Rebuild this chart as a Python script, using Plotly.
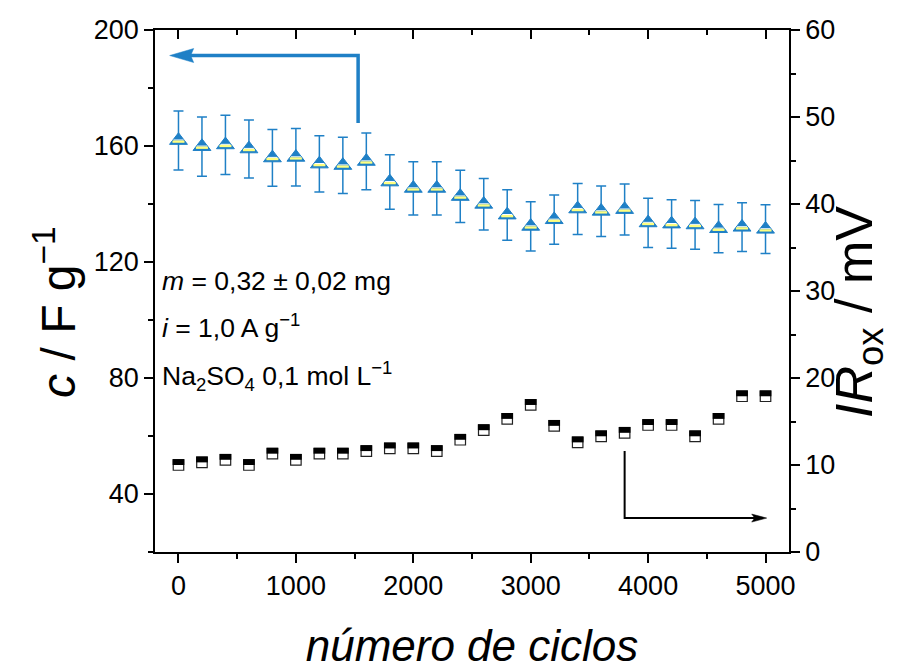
import plotly.graph_objects as go

# ---------------- data ----------------
cycles = [0, 200, 400, 600, 800, 1000, 1200, 1400, 1600, 1800, 2000, 2200, 2400,
          2600, 2800, 3000, 3200, 3400, 3600, 3800, 4000, 4200, 4400, 4600, 4800, 5000]
capacitance = [161.9, 159.8, 160.4, 159.0, 155.9, 156.1, 153.8, 153.3, 154.7, 147.6,
               145.4, 145.4, 142.6, 139.9, 136.2, 132.3, 134.6, 138.3, 137.5, 138.1,
               133.5, 133.1, 132.8, 131.5, 132.0, 131.3]
capacitance_err = [10.2, 10.2, 10.2, 10.0, 9.8, 9.9, 9.7, 9.7, 9.8, 9.4, 9.2, 9.2, 9.0,
                   8.9, 8.7, 8.5, 8.5, 8.8, 8.7, 8.8, 8.5, 8.4, 8.4, 8.3, 8.4, 8.4]
ir_ox = [10.0, 10.3, 10.6, 10.0, 11.3, 10.6, 11.3, 11.3, 11.6, 11.9, 11.9, 11.6, 12.9,
         14.0, 15.3, 16.9, 14.5, 12.6, 13.3, 13.7, 14.6, 14.6, 13.3, 15.3, 17.9, 17.9]

x_ticks = [0, 1000, 2000, 3000, 4000, 5000]
y_left_ticks = [40, 80, 120, 160, 200]
y_right_ticks = [0, 10, 20, 30, 40, 50, 60]

# ---------------- style ----------------
FONT = "Liberation Sans, Arial, sans-serif"
BLUE = "#1f80c6"
YELLOW = "#ffff80"
W, H = 922, 670
# the page body adds an 8 px offset, margins compensate for it
M_L, M_R, M_T, M_B = 147, 141, 22, 126
X_RANGE = [-200, 5200]
YL_RANGE = [20, 200]
YR_RANGE = [0, 60]
plot_w = W - M_L - M_R
plot_h = H - M_T - M_B
px_per_left = plot_h / (YL_RANGE[1] - YL_RANGE[0])
px_per_right = plot_h / (YR_RANGE[1] - YR_RANGE[0])
px_per_x = plot_w / (X_RANGE[1] - X_RANGE[0])

n = len(cycles)
band_len = 2.3 / px_per_left        # yellow band below marker centre
white_len = 1.0 / px_per_left       # thin white line above the band
half_sq = 5.9 / px_per_right        # black upper half of the square markers

fig = go.Figure()

# capacitance: blue triangles with error bars
fig.add_trace(go.Scatter(
    x=cycles, y=capacitance, mode="markers", xaxis="x", yaxis="y",
    marker=dict(symbol="triangle-up", size=15.5, color=BLUE,
                line=dict(color=BLUE, width=1)),
    error_y=dict(type="data", array=capacitance_err, color=BLUE,
                 thickness=1.5, width=5),
    hoverinfo="x+y", showlegend=False))
# white thin line inside triangle
fig.add_trace(go.Scatter(
    x=cycles, y=capacitance, mode="markers", xaxis="x2", yaxis="y",
    marker=dict(size=0, color="rgba(0,0,0,0)"),
    error_y=dict(type="data", symmetric=False, array=[white_len] * n,
                 arrayminus=[0] * n, color="white", thickness=10, width=0),
    hoverinfo="skip", showlegend=False))
# yellow band inside triangle
fig.add_trace(go.Scatter(
    x=cycles, y=capacitance, mode="markers", xaxis="x2", yaxis="y",
    marker=dict(size=0, color="rgba(0,0,0,0)"),
    error_y=dict(type="data", symmetric=False, array=[0] * n,
                 arrayminus=[band_len] * n, color=YELLOW, thickness=12, width=0),
    hoverinfo="skip", showlegend=False))

# IR drop: half-filled squares
fig.add_trace(go.Scatter(
    x=cycles, y=ir_ox, mode="markers", xaxis="x", yaxis="y2",
    marker=dict(symbol="square", size=10.5, color="white",
                line=dict(color="#222222", width=1.2)),
    hoverinfo="x+y", showlegend=False))
fig.add_trace(go.Scatter(
    x=cycles, y=ir_ox, mode="markers", xaxis="x", yaxis="y2",
    marker=dict(size=0, color="rgba(0,0,0,0)"),
    error_y=dict(type="data", symmetric=False, array=[half_sq] * n,
                 arrayminus=[0] * n, color="black", thickness=11.7, width=0),
    hoverinfo="skip", showlegend=False))

# ---------------- arrows ----------------
ba_x, ba_y0, ba_y1, ba_tip = 1530, 167.9, 191.2, -75
fig.add_shape(type="path", xref="x", yref="y",
              path=f"M {ba_x},{ba_y0} L {ba_x},{ba_y1} L {ba_tip + 10 / px_per_x},{ba_y1}",
              line=dict(color=BLUE, width=3.5))
fig.add_shape(type="path", xref="x", yref="y", xsizemode="pixel", ysizemode="pixel",
              xanchor=ba_tip, yanchor=ba_y1,
              path="M 0,0 L 24,7 L 21,0 L 24,-7 Z",
              fillcolor=BLUE, line=dict(color=BLUE, width=0.5))

ka_x, ka_y0, ka_y1, ka_tip = 3800, 11.6, 3.9, 5010
fig.add_shape(type="path", xref="x", yref="y2",
              path=f"M {ka_x},{ka_y0} L {ka_x},{ka_y1} L {ka_tip - 6 / px_per_x},{ka_y1}",
              line=dict(color="black", width=2))
fig.add_shape(type="path", xref="x", yref="y2", xsizemode="pixel", ysizemode="pixel",
              xanchor=ka_tip, yanchor=ka_y1,
              path="M 0,0 L -15,4 L -12,0 L -15,-4 Z",
              fillcolor="black", line=dict(color="black", width=0.5))

# ---------------- text ----------------
notes = [
    ("<i>m</i> = 0,32 ± 0,02 mg", 0.519),
    ("<i>i</i> = 1,0 A g<sup>−1</sup>", 0.432),
    ("Na<sub>2</sub>SO<sub>4</sub> 0,1 mol L<sup>−1</sup>", 0.338),
]
for txt, yp in notes:
    fig.add_annotation(text=txt, xref="paper", yref="paper", x=0.008, y=yp,
                       xanchor="left", yanchor="middle", showarrow=False,
                       font=dict(family=FONT, size=26.5, color="black"))

fig.add_annotation(text="<i>c</i> / F g<sup>−1</sup>", textangle=-90,
                   xref="paper", yref="paper", x=(47 - M_L) / plot_w, y=0.46,
                   xanchor="center", yanchor="middle", showarrow=False,
                   font=dict(family=FONT, size=48, color="black"))
fig.add_annotation(text="<i>IR</i><sub>ox</sub> / mV", textangle=-90,
                   xref="paper", yref="paper", x=(850 - M_L) / plot_w, y=0.46,
                   xanchor="center", yanchor="middle", showarrow=False,
                   font=dict(family=FONT, size=52, color="black"))

# ---------------- axes ----------------
tick_font = dict(family=FONT, size=27, color="black")
common = dict(showgrid=False, zeroline=False, showline=True, linecolor="black",
              linewidth=1.6, tickcolor="black", tickwidth=1.5)

fig.update_layout(
    width=W, height=H,
    margin=dict(l=M_L, r=M_R, t=M_T, b=M_B, autoexpand=False),
    paper_bgcolor="white", plot_bgcolor="white",
    font=dict(family=FONT, color="black"),
    showlegend=False,
    xaxis=dict(range=X_RANGE, tickvals=x_ticks, ticks="outside", ticklen=9,
               tickfont=tick_font,
               minor=dict(dtick=500, tick0=0, ticks="outside", ticklen=5,
                          tickcolor="black", tickwidth=1.5),
               title=dict(text="<i>número de ciclos</i>", standoff=30,
                          font=dict(family=FONT, size=44, color="black")),
               **common),
    xaxis2=dict(range=X_RANGE, overlaying="x", side="top", tickvals=x_ticks,
                ticks="inside", ticklen=9, showticklabels=False,
                minor=dict(dtick=500, tick0=0, ticks="inside", ticklen=5,
                           tickcolor="black", tickwidth=1.5),
                **common),
    yaxis=dict(range=YL_RANGE, tickvals=y_left_ticks, ticks="outside", ticklen=9,
               tickfont=tick_font,
               minor=dict(dtick=20, tick0=0, ticks="outside", ticklen=5,
                          tickcolor="black", tickwidth=1.5),
               **common),
    yaxis2=dict(range=YR_RANGE, overlaying="y", side="right", tickvals=y_right_ticks,
                ticks="outside", ticklen=9, tickfont=tick_font,
                minor=dict(dtick=5, tick0=0, ticks="outside", ticklen=5,
                           tickcolor="black", tickwidth=1.5),
                **common),
)

fig.write_html("out.html")
